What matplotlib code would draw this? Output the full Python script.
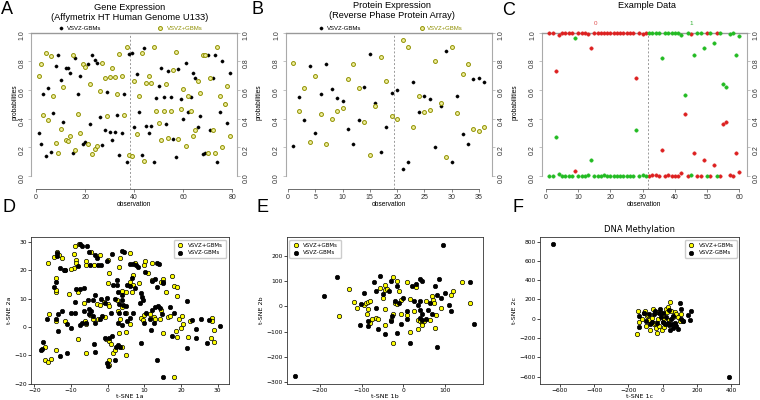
import numpy as np
import matplotlib.pyplot as plt

plt.rcParams['font.family'] = 'DejaVu Sans'

# A - gene expression, class probability for each observation
gene_neg = [0.30, 0.22, 0.575, 0.14, 0.61, 0.165, 0.44, 0.77, 0.84, 0.67,
            0.38, 0.75, 0.755, 0.72, 0.16, 0.82, 0.57, 0.70, 0.22, 0.24,
            0.78, 0.36, 0.845, 0.81, 0.79, 0.41, 0.215, 0.32, 0.585, 0.31,
            0.25, 0.31, 0.425, 0.15, 0.30, 0.575, 0.10, 0.85, 0.86, 0.34,
            0.71, 0.445, 0.145, 0.895, 0.35, 0.30, 0.35, 0.10, 0.545, 0.63,
            0.75, 0.55, 0.36, 0.735, 0.55, 0.26, 0.135, 0.745, 0.535, 0.395,
            0.79, 0.445, 0.55, 0.72, 0.68, 0.34, 0.42, 0.155, 0.16, 0.84,
            0.32, 0.68, 0.84, 0.10, 0.445, 0.80, 0.50, 0.37, 0.72]
gene_pos = [0.70, 0.78, 0.425, 0.86, 0.39, 0.835, 0.56, 0.23, 0.16, 0.33,
            0.62, 0.25, 0.245, 0.28, 0.84, 0.18, 0.43, 0.30, 0.78, 0.76,
            0.22, 0.64, 0.155, 0.19, 0.21, 0.59, 0.785, 0.68, 0.415, 0.69,
            0.75, 0.69, 0.575, 0.85, 0.70, 0.425, 0.90, 0.15, 0.14, 0.66,
            0.29, 0.555, 0.855, 0.105, 0.65, 0.70, 0.65, 0.90, 0.455, 0.37,
            0.25, 0.45, 0.64, 0.265, 0.45, 0.74, 0.865, 0.255, 0.465, 0.605,
            0.21, 0.555, 0.45, 0.28, 0.32, 0.66, 0.58, 0.845, 0.84, 0.16,
            0.68, 0.32, 0.16, 0.90, 0.555, 0.20, 0.50, 0.63, 0.28]
gene_split = 38.5

# B - protein expression
prot_neg = [0.21, 0.55, 0.39, 0.765, 0.30, 0.57, 0.78, 0.605, 0.545, 0.525,
            0.325, 0.22, 0.39, 0.62, 0.85, 0.51, 0.17, 0.34, 0.58, 0.60,
            0.05, 0.10, 0.655, 0.445, 0.555, 0.54, 0.20, 0.49, 0.87, 0.10,
            0.56, 0.29, 0.22, 0.675, 0.685, 0.655]
prot_pos = [0.79, 0.45, 0.61, 0.235, 0.70, 0.43, 0.22, 0.395, 0.455, 0.475,
            0.675, 0.78, 0.61, 0.38, 0.15, 0.49, 0.83, 0.66, 0.42, 0.40,
            0.95, 0.90, 0.345, 0.555, 0.445, 0.46, 0.80, 0.51, 0.13, 0.90,
            0.44, 0.71, 0.78, 0.325, 0.315, 0.345]
prot_split = 19.5

# C - example data, class 0 / class 1
ex_0 = [1.0, 1.0, 0.73, 0.985, 1.0, 1.0, 1.0, 1.0, 0.035, 1.0,
        1.0, 1.0, 0.99, 0.89, 1.0, 1.0, 1.0, 0.995, 1.0, 1.0,
        1.0, 1.0, 1.0, 1.0, 1.0, 1.0, 1.0, 0.68, 1.0, 0.99,
        1.0, 0.0, 0.005, 0.005, 0.0, 0.18, 0.0, 0.005, 0.0, 0.0,
        0.0, 0.02, 0.435, 0.0, 0.99, 0.16, 0.0, 0.0, 0.11, 1.0,
        0.0, 0.075, 1.0, 0.0, 0.36, 0.38, 0.01, 0.0, 0.16, 0.025]
ex_1 = [0.0, 0.0, 0.27, 0.015, 0.0, 0.0, 0.0, 0.0, 0.965, 0.0,
        0.0, 0.0, 0.01, 0.11, 0.0, 0.0, 0.0, 0.005, 0.0, 0.0,
        0.0, 0.0, 0.0, 0.0, 0.0, 0.0, 0.0, 0.32, 0.0, 0.01,
        0.0, 1.0, 0.995, 0.995, 1.0, 0.82, 1.0, 0.995, 1.0, 1.0,
        1.0, 0.98, 0.565, 1.0, 0.01, 0.84, 1.0, 1.0, 0.89, 0.0,
        1.0, 0.925, 0.0, 1.0, 0.64, 0.62, 0.99, 1.0, 0.84, 0.975]
ex_split = 31.5

# D - t-SNE of gene expression
d_pos = [(-16.3, 22.7), (-14.5, 24.8), (-13.8, 26.5), (-13.2, 25.5), (-12.5, 24.5),
         (-14.0, 17.3), (-14.0, 12.3), (-14.1, 13.0), (-11.7, 20.0), (-9.0, 28.8),
         (-7.8, 29.5), (-9.3, 25.8), (-8.5, 23.8), (-9.3, 21.0), (-10.0, 20.5),
         (-8.5, 22.5), (-10.5, 11.8), (-8.0, 12.5), (-6.0, 23.5), (-4.5, 26.5),
         (-5.8, 22.0), (-2.0, 25.5), (-3.8, 22.0), (-16.0, 4.5), (-14.0, 2.0),
         (-11.5, 2.0), (-6.5, 8.5), (-6.3, 2.0), (-5.8, 1.0), (-4.8, 4.2),
         (-3.0, 8.0), (-2.0, 7.8), (-1.0, 8.8), (0.0, 8.0), (0.5, 7.5),
         (0.0, 15.5), (0.5, 19.0), (0.0, 23.8), (-0.8, 3.5), (-2.5, 3.0),
         (-4.0, 3.0), (-0.5, -4.2), (0.5, -4.8), (1.0, -6.0), (0.5, -11.5),
         (0.5, -13.5), (1.5, -9.2), (2.0, -8.0), (-17.0, -7.0), (-17.0, -11.8),
         (-16.2, -12.5), (-15.5, -11.3), (-14.0, -8.0), (-8.2, -4.2), (-6.0, -9.0),
         (3.0, 21.3), (3.5, 24.3), (4.0, 12.8), (5.0, 12.5), (5.0, 5.0),
         (3.5, 3.0), (3.0, -2.0), (5.0, -1.8), (3.8, -7.0), (5.0, -10.0),
         (6.0, 26.0), (6.0, 16.0), (6.8, 18.5), (7.0, 15.0), (6.5, 12.5),
         (7.5, 22.5), (6.2, 1.0), (8.5, 15.5), (10.0, 22.0), (10.3, 23.5),
         (11.0, 19.0), (11.5, 4.5), (12.5, 3.5), (12.8, 3.0), (12.0, 22.5),
         (12.0, 16.5), (14.5, 16.0), (15.0, 17.0), (14.5, 6.0), (14.2, 3.0),
         (15.0, -2.0), (16.0, 12.3), (16.5, 3.5), (17.0, 4.0), (17.5, 18.0),
         (18.0, 14.5), (19.0, 14.3), (19.0, 10.8), (18.5, -1.5), (19.0, -3.5),
         (19.5, 3.0), (20.3, 3.8), (20.5, 1.0), (20.0, -0.5), (22.0, -3.5),
         (22.5, 2.3), (18.0, -17.5), (28.5, 3.2), (28.5, 2.0), (28.3, -3.8),
         (29.0, -5.3), (29.0, -1.0), (9.0, 3.2), (9.5, 2.5), (10.0, 4.3),
         (2.5, 9.5), (2.8, 5.5), (4.0, 7.0)]
d_neg = [(-13.8, 26.0), (-13.8, 25.0), (-13.0, 20.8), (-12.0, 20.0), (-11.5, 20.3),
         (-14.5, 14.0), (-14.0, 15.8), (-7.0, 28.8), (-7.5, 29.3), (-5.5, 28.8),
         (-5.0, 26.5), (-4.7, 22.0), (-8.0, 21.5), (-3.5, 25.3), (-3.0, 24.5),
         (-2.7, 22.0), (-1.8, 22.0), (-0.3, 23.5), (1.3, 25.7), (4.0, 27.0),
         (4.5, 26.5), (6.0, 22.3), (7.0, 22.3), (6.5, 17.5), (7.8, 22.0),
         (8.3, 21.3), (10.3, 19.5), (12.0, 16.3), (13.0, 17.0), (13.5, 22.5),
         (14.0, 22.3), (15.0, 16.0), (15.2, 15.5), (13.5, 14.3), (13.8, 7.3),
         (14.2, 6.8), (14.7, 4.5), (11.5, 3.0), (11.8, -1.0), (12.5, 1.5),
         (9.0, 12.2), (9.3, 10.5), (9.5, 9.5), (8.8, 8.5), (10.0, 1.5),
         (10.5, 5.0), (4.0, 11.5), (4.0, 9.5), (4.2, 7.8), (3.0, 8.3),
         (5.0, 7.5), (2.0, 10.0), (2.5, 15.0), (2.5, 16.5), (1.5, 14.8),
         (2.8, 12.5), (5.3, 14.8), (6.0, 14.5), (3.0, 4.8), (4.8, 4.8),
         (2.8, 1.5), (4.0, 0.8), (5.3, 2.0), (7.0, 4.8), (6.0, 3.2),
         (-0.3, 10.3), (-1.8, 9.8), (-0.8, 8.5), (-3.5, 11.2), (-4.0, 9.5),
         (-5.3, 9.5), (-5.0, 6.5), (-6.5, 5.8), (-7.5, 13.5), (-6.5, 13.8),
         (-4.5, 5.5), (-5.0, 4.5), (-4.0, 3.8), (-3.5, 1.5), (-2.0, 2.7),
         (-1.5, 4.0), (-8.5, 13.5), (-9.0, 9.0), (-9.0, 5.0), (-10.0, 5.0),
         (-12.5, 5.8), (-13.5, 4.5), (-14.0, 3.0), (-11.0, 1.0), (-10.0, -0.5),
         (-16.5, 2.7), (-13.5, -1.5), (-7.5, 0.8), (-7.0, 1.5), (-6.0, 1.5),
         (-0.8, -4.0), (0.5, -4.0), (1.3, -3.2), (2.8, -6.5), (3.3, -7.0),
         (2.2, -7.2), (2.0, -11.5), (-0.2, -12.7), (0.2, -13.8), (-3.8, -6.0),
         (-3.5, -8.8), (-11.0, -9.0), (-13.0, -10.3), (-17.5, -5.2), (-17.8, -7.8),
         (-18.2, -8.0), (9.0, -5.5), (13.5, -11.8), (15.0, -17.5), (17.5, -3.3),
         (21.5, -7.5), (21.5, 9.3), (24.0, -0.8), (24.0, -4.0), (23.0, 2.5),
         (25.5, 3.0), (27.5, 2.5), (27.0, -5.5), (30.5, 0.3), (17.0, 7.0),
         (18.0, 5.0), (13.0, 7.0), (12.0, 6.0), (7.5, 13.7), (1.0, 5.0)]

# E - t-SNE of protein expression
e_pos = [(-155, -40), (-130, 68), (-118, 17), (-112, -5), (-95, 5), (-90, 12),
         (-85, 18), (-80, 22), (-85, -10), (-88, -30), (-80, -65), (-75, -50),
         (-65, -45), (-60, -50), (-55, 72), (-50, 35), (-45, 85), (-45, 65),
         (-40, 70), (-25, 115), (-20, 12), (-15, 10), (-15, 100), (-10, 60),
         (-5, 25), (-5, -30), (-25, -30), (-30, -55), (-45, -10), (-45, -75),
         (-25, -145), (10, 95), (15, 30), (10, -35), (15, -100), (30, 75),
         (25, -20), (35, -55), (40, -60), (45, -65), (45, -75), (50, -60),
         (55, 20), (35, -90), (65, -55), (70, 40), (72, 25), (73, 15),
         (75, -85), (78, -35), (90, -5), (120, 60), (115, 45), (140, 98), (160, 12)]
e_neg = [(-260, -275), (-190, 40), (-160, 115), (-105, -75), (-102, 10), (-95, 52),
         (-85, -60), (-85, -78), (-70, 95), (-65, 60), (-65, -5), (-60, -90),
         (-55, 120), (-50, 48), (-45, -110), (-35, 60), (-30, 100), (-28, -40),
         (-30, -60), (-20, 20), (-15, 80), (-10, 15), (-5, -70), (-15, -105),
         (0, 35), (10, -20), (10, -50), (15, -145), (20, 80), (25, 20),
         (30, 90), (35, 5), (40, 110), (40, 20), (40, -15), (45, 100),
         (45, -30), (40, -45), (60, -15), (65, 15), (70, -30), (75, 80),
         (80, 45), (80, -160), (85, 110), (90, 35), (95, 245), (100, 55),
         (110, 5), (115, -20), (160, 95), (170, -70), (45, -55), (55, -50)]

# F - t-SNE of DNA methylation
f_pos = [(-145, 85), (-140, -35), (-150, -160), (-120, 0), (-110, 55), (-100, 80),
         (-95, -80), (-90, 30), (-80, -10), (-75, -120), (-60, 5), (-55, 105),
         (-50, -60), (-45, -40), (-40, -100), (-35, -150), (-30, 70), (-25, 0),
         (-20, -80), (-10, 55), (-5, -120), (0, 40), (5, -30), (10, -90),
         (20, 100), (25, 70), (30, 120), (35, -50), (40, -10), (45, 175),
         (50, 80), (60, 20), (70, 70), (75, -60), (80, 45), (90, 20),
         (100, -25), (110, 45), (120, -20), (10, 0), (-85, 40)]
f_neg = [(-640, 770), (385, -605), (-140, -85), (-135, 25), (-110, 55), (-95, -25),
         (-80, 45), (-75, -60), (-60, -30), (-50, 50), (-45, 80), (-30, -40),
         (-20, 55), (-15, 100), (-10, 15), (0, -30), (5, 60), (15, -50),
         (20, 20), (30, -40), (35, 90), (40, -70), (45, -120), (50, 0),
         (55, -50), (60, 30), (70, -40), (80, -80), (90, -110), (100, 160),
         (105, 100), (110, 0), (120, -20), (145, 40), (160, -10), (165, 80), (60, -100)]

R_FONT = 'Liberation Sans'
OLIVE = '#8f8f00'
black_pt = dict(marker='o', ms=2.3, mfc='black', mec='black', mew=0.3)
yellow_pt = dict(marker='o', ms=2.8, mfc='#eeee99', mec=OLIVE, mew=0.7)
red_pt = dict(marker='o', ms=2.5, mfc='#dd2020', mec='#dd2020', mew=0.3)
green_pt = dict(marker='o', ms=2.5, mfc='#22bb22', mec='#22bb22', mew=0.3)

fig = plt.figure(figsize=(7.6, 4.0), dpi=100)


def box(x0, y0, x1, y1):
    # pixel box (top-left origin) -> figure fraction rect
    return [x0 / 760, 1 - y1 / 400, (x1 - x0) / 760, (y1 - y0) / 400]


def prob_panel(rect, first, second, split, xlim, xticks, st1, st2, ylab_x):
    ax = fig.add_axes(rect)
    obs = np.arange(1, len(first) + 1)
    ax.plot(obs, first, ls='none', clip_on=False, zorder=3, **st1)
    ax.plot(obs, second, ls='none', clip_on=False, zorder=3, **st2)
    ax.axvline(split, color='#999999', ls=(0, (2, 2)), lw=0.7)
    ax.set_xlim(xlim)
    ax.set_ylim(-0.09, 1.0)
    ax.set_xticks(xticks)
    ax.set_yticks([0, 0.2, 0.4, 0.6, 0.8, 1.0])
    ax.set_yticklabels(['0.0', '0.2', '0.4', '0.6', '0.8', '1.0'], family=R_FONT)
    ax.set_xticklabels([str(t) for t in xticks], family=R_FONT)
    for s in ['left', 'right']:
        ax.spines[s].set_bounds(0, 1)
        ax.spines[s].set_color('#aaaaaa')
        ax.spines[s].set_linewidth(0.8)
    ax.spines['bottom'].set_bounds(xticks[0], xticks[-1])
    ax.spines['bottom'].set_color('#555555')
    ax.spines['bottom'].set_linewidth(0.6)
    ax.spines['top'].set_color('#999999')
    ax.spines['top'].set_linewidth(1.0)
    ax.tick_params(axis='y', right=True, labelright=True, labelrotation=90,
                   length=2.5, width=0.5, labelsize=5, pad=1.5,
                   color='#aaaaaa', labelcolor='#333333')
    ax.tick_params(axis='x', length=2.5, width=0.5, labelsize=5, pad=1,
                   color='#555555', labelcolor='#333333')
    ax.set_xlabel('observation', fontsize=4.8, family=R_FONT)
    ax.set_ylabel('probabilities', fontsize=4.8, family=R_FONT)
    ax.xaxis.set_label_coords(0.5, -0.074)
    ax.yaxis.set_label_coords(ylab_x, 0.556)
    return ax


# ---- top row
axA = prob_panel(box(31, 32.5, 237.3, 189), gene_neg, gene_pos, gene_split,
                 (-2.1, 82.1), [0, 20, 40, 60, 80], black_pt, yellow_pt, -0.06)
axA.plot([10.1], [1.03], ls='none', clip_on=False, **black_pt)
axA.text(12.6, 1.03, 'VSVZ-GBMs', fontsize=4.3, va='center', family=R_FONT)
axA.plot([50.5], [1.03], ls='none', clip_on=False, **yellow_pt)
axA.text(53.4, 1.03, 'VSVZ+GBMs', fontsize=4.3, va='center', color=OLIVE, family=R_FONT)

axB = prob_panel(box(285.8, 32.5, 492, 189), prot_neg, prot_pos, prot_split,
                 (-0.4, 37.4), [0, 5, 10, 15, 20, 25, 30, 35], black_pt, yellow_pt, -0.115)
axB.plot([6.1], [1.03], ls='none', clip_on=False, **black_pt)
axB.text(7.2, 1.03, 'VSVZ-GBMs', fontsize=4.3, va='center', family=R_FONT)
axB.plot([24.6], [1.03], ls='none', clip_on=False, **yellow_pt)
axB.text(25.5, 1.03, 'VSVZ+GBMs', fontsize=4.3, va='center', color=OLIVE, family=R_FONT)

axC = prob_panel(box(541.7, 32.5, 746.9, 189), ex_0, ex_1, ex_split,
                 (-1.36, 62.36), [0, 10, 20, 30, 40, 50, 60], red_pt, green_pt, -0.115)
axC.text(15.4, 1.066, '0', fontsize=4.5, ha='center', va='center', color='#e05050', family=R_FONT)
axC.text(45.2, 1.066, '1', fontsize=4.5, ha='center', va='center', color='#30b030', family=R_FONT)

fig.text(130 / 760, 1 - 7.5 / 400, 'Gene Expression', ha='center', va='center',
         fontsize=6.7, family=R_FONT)
fig.text(130 / 760, 1 - 18 / 400, '(Affymetrix HT Human Genome U133)', ha='center',
         va='center', fontsize=6.7, family=R_FONT)
fig.text(392 / 760, 1 - 5.5 / 400, 'Protein Expression', ha='center', va='center',
         fontsize=6.7, family=R_FONT)
fig.text(392 / 760, 1 - 16 / 400, '(Reverse Phase Protein Array)', ha='center',
         va='center', fontsize=6.7, family=R_FONT)
fig.text(647 / 760, 1 - 5.5 / 400, 'Example Data', ha='center', va='center',
         fontsize=6.7, family=R_FONT)


def tsne_panel(rect, pos, neg, xlim, ylim, xticks, yticks, xlabel, ylabel, loc):
    ax = fig.add_axes(rect)
    pos = np.array(pos, dtype=float)
    neg = np.array(neg, dtype=float)
    ax.scatter(pos[:, 0], pos[:, 1], s=10, c='yellow', edgecolors='black',
               linewidths=0.5, label='VSVZ+GBMs', zorder=2)
    ax.scatter(neg[:, 0], neg[:, 1], s=10, c='black', edgecolors='black',
               linewidths=0.5, label='VSVZ-GBMs', zorder=2)
    ax.set_xlim(xlim)
    ax.set_ylim(ylim)
    ax.set_xticks(xticks)
    ax.set_yticks(yticks)
    ax.tick_params(labelsize=4.3, length=2, width=0.5, pad=1)
    for s in ax.spines.values():
        s.set_linewidth(0.6)
        s.set_color('#333333')
    ax.set_xlabel(xlabel, fontsize=4.6, labelpad=0.5)
    ax.set_ylabel(ylabel, fontsize=4.6, labelpad=1.5)
    ax.legend(loc=loc, fontsize=4, handlelength=1.2, handletextpad=0.8,
              borderpad=0.5, labelspacing=0.4, framealpha=1, edgecolor='#cccccc',
              fancybox=True)
    return ax


tsne_panel(box(31, 237.3, 228.7, 384), d_pos, d_neg, (-20.9, 33.0), (-20.1, 31.7),
           [-20, -10, 0, 10, 20, 30], [-20, -10, 0, 10, 20, 30],
           't-SNE 1a', 't-SNE 2a', 'upper right')
tsne_panel(box(286.7, 237.3, 483.3, 384), e_pos, e_neg, (-280, 192), (-308, 274),
           [-200, -100, 0, 100], [-300, -200, -100, 0, 100, 200],
           't-SNE 1b', 't-SNE 2b', 'upper left')
axF = tsne_panel(box(540, 237.3, 739.3, 384), f_pos, f_neg, (-715, 447), (-677, 844),
                 [-600, -400, -200, 0, 200, 400], [-600, -400, -200, 0, 200, 400, 600, 800],
                 't-SNE 1c', 't-SNE 2c', 'upper right')
axF.set_title('DNA Methylation', fontsize=6, pad=4)

# panel letters
for letter, x, y in [('A', 1, 1), ('B', 252, 1), ('C', 502, 2),
                     ('D', 2, 199), ('E', 257, 199), ('F', 512, 199)]:
    fig.text(x / 760, 1 - y / 400, letter, ha='left', va='top', fontsize=13,
             family=R_FONT)

fig.savefig('out.png', dpi=100)
